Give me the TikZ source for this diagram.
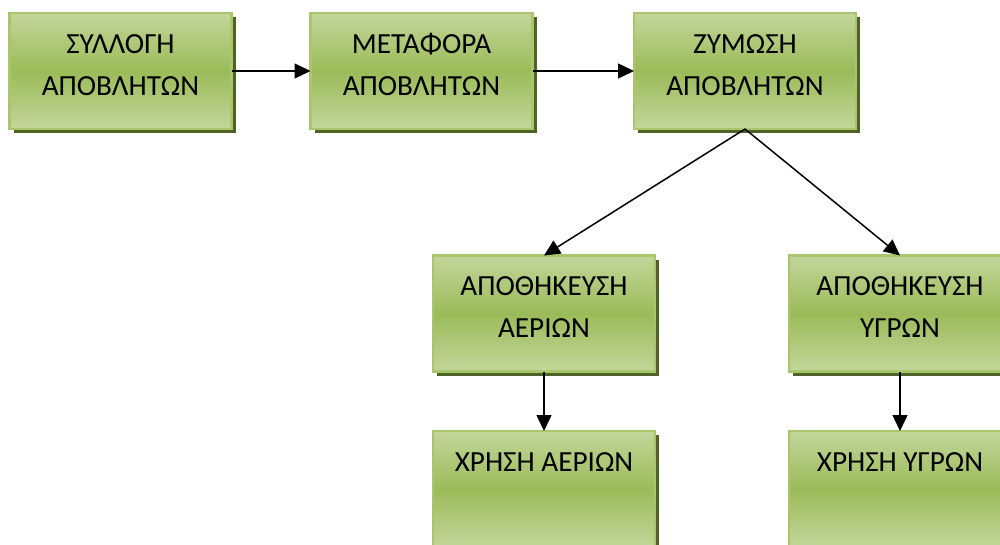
\documentclass[tikz,border=0pt]{standalone}
\usepackage{fontspec}
\setmainfont{Carlito}
\usetikzlibrary{arrows.meta,shadows}
\definecolor{gtop}{HTML}{C3D69B}
\definecolor{gmid}{HTML}{9BBB59}
\definecolor{gborder}{HTML}{A9C66D}
\definecolor{gshadow}{HTML}{4F6228}
\begin{document}
\begin{tikzpicture}[x=1pt,y=-1pt,
  box/.style={rectangle, minimum width=222pt, minimum height=116pt, inner sep=0pt, outer sep=0pt,
    draw=gborder, line width=2.5pt, top color=gtop, bottom color=gtop, middle color=gmid,
    general shadow={fill=gshadow, shadow xshift=4pt, shadow yshift=-4pt}},
  lbl/.style={font=\fontsize{29.2}{42}\selectfont, align=center, anchor=base, inner sep=0pt},
  arr/.style={line width=1.5pt, -{Triangle[length=16pt,width=15pt]}}]
\useasboundingbox (0,0) rectangle (1000,544);
\clip (0,0) rectangle (1000,544);
\node[box] (b1) at (120.5,71) {};
\node[box] (b2) at (421.5,71) {};
\node[box] (b3) at (745,71) {};
\node[box] (b4) at (544,313.5) {};
\node[box] (b5) at (900,313.5) {};
\node[box] (b6) at (544,489) {};
\node[box] (b7) at (900,489) {};
\node[lbl] (t1) at ([yshift=-82pt]b1.north) {ΣΥΛΛΟΓΗ\\ΑΠΟΒΛΗΤΩΝ};
\node[lbl] (t2) at ([yshift=-82pt]b2.north) {ΜΕΤΑΦΟΡΑ\\ΑΠΟΒΛΗΤΩΝ};
\node[lbl] (t3) at ([yshift=-82pt]b3.north) {ΖΥΜΩΣΗ\\ΑΠΟΒΛΗΤΩΝ};
\node[lbl] (t4) at ([yshift=-82pt]b4.north) {ΑΠΟΘΗΚΕΥΣΗ\\ΑΕΡΙΩΝ};
\node[lbl] (t5) at ([yshift=-82pt]b5.north) {ΑΠΟΘΗΚΕΥΣΗ\\ΥΓΡΩΝ};
\node[lbl] (t6) at ([yshift=-40pt]b6.north) {ΧΡΗΣΗ ΑΕΡΙΩΝ};
\node[lbl] (t7) at ([yshift=-40pt]b7.north) {ΧΡΗΣΗ ΥΓΡΩΝ};
\draw[arr] (b1.east) -- (b2.west);
\draw[arr] (b2.east) -- (b3.west);
\draw[arr] (b3.south) -- (b4.north);
\draw[arr] (b3.south) -- (b5.north);
\draw[arr] (b4.south) -- (b6.north);
\draw[arr] (b5.south) -- (b7.north);
\end{tikzpicture}
\end{document}
